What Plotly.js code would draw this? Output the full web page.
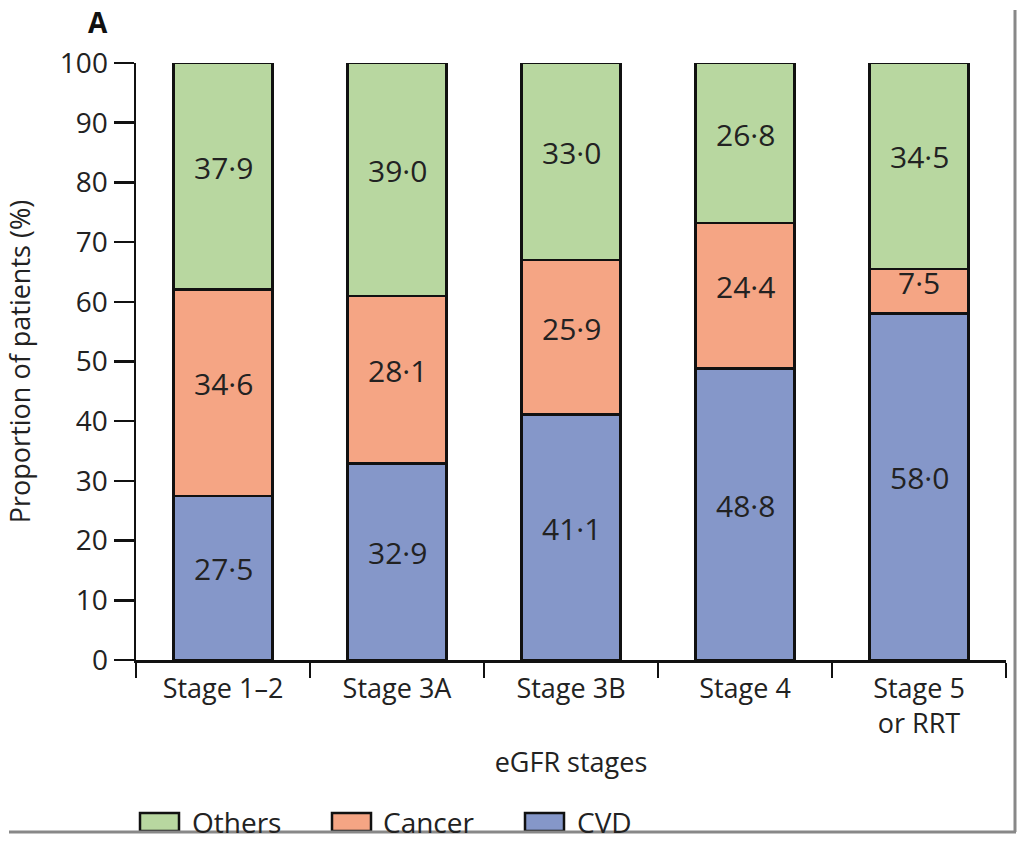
<!DOCTYPE html>
<html>
<head>
<meta charset="utf-8">
<script src="https://cdn.plot.ly/plotly-3.0.1.min.js"></script>
<style>html,body{margin:0;padding:0;background:#fff;}</style>
</head>
<body>
<div id="chart" style="width:1024px;height:843px;"></div>
<script>
const categories = ["Stage 1–2", "Stage 3A", "Stage 3B", "Stage 4", "Stage 5<br>or RRT"];
const cvd = [27.5, 32.9, 41.1, 48.8, 58.0];
const cancer = [34.6, 28.1, 25.9, 24.4, 7.5];
const others = [37.9, 39.0, 33.0, 26.8, 34.5];
const yTicks = [0, 10, 20, 30, 40, 50, 60, 70, 80, 90, 100];
const legendNames = ["Others", "Cancer", "CVD"];
const legendColors = ["#b8d7a0", "#f5a584", "#8597c9"];

const fmt = v => v.toFixed(1).replace(".", "·");
const FONT = "Open Sans, Noto Sans, sans-serif";
const TXT = "#222";

function mk(name, vals, color) {
  return {
    type: "bar", name: name, x: categories, y: vals,
    marker: {color: color, line: {color: "#111", width: 2.5}},
    width: 0.57, hoverinfo: "skip", showlegend: false
  };
}
const series = [cvd, cancer, others];
const data = [
  mk("CVD", cvd, legendColors[2]),
  mk("Cancer", cancer, legendColors[1]),
  mk("Others", others, legendColors[0])
];

// plot area: x 136..1006 (870 px), y 63..660 (597 px)
const px = x => (x - 136) / 870;
const py = y => (660 - y) / 597;

const shapes = [
  {type: "line", xref: "paper", yref: "paper", x0: px(1015), x1: px(1015), y0: py(10), y1: py(832),
   line: {color: "#888", width: 3}},
  {type: "line", xref: "paper", yref: "paper", x0: px(9), x1: px(1016), y0: py(832), y1: py(832),
   line: {color: "#888", width: 3}}
];
const annotations = [
  {xref: "paper", yref: "paper", x: px(86), y: py(22), xanchor: "left", yanchor: "middle",
   showarrow: false, text: "<b>A</b>", font: {family: FONT, size: 28, color: "#111"}}
];

// value labels inside the stacked segments (data coordinates)
categories.forEach((c, i) => {
  let base = 0;
  series.forEach(s => {
    annotations.push({x: c, y: base + s[i] / 2, xref: "x", yref: "y", showarrow: false,
      text: fmt(s[i]), yshift: 9, font: {family: FONT, size: 30, color: TXT}});
    base += s[i];
  });
});

const legBoxX = [140, 332, 525];
const legTextX = [190, 381, 575];
legendNames.forEach((n, i) => {
  shapes.push({type: "rect", xref: "paper", yref: "paper",
    x0: px(legBoxX[i]), x1: px(legBoxX[i] + 39), y0: py(813), y1: py(831),
    fillcolor: legendColors[i], line: {color: "#111", width: 2.5}, layer: "below"});
  annotations.push({xref: "paper", yref: "paper", x: px(legTextX[i]), y: py(822),
    xanchor: "left", yanchor: "middle", showarrow: false, text: n,
    font: {family: FONT, size: 28, color: TXT}});
});

const layout = {
  width: 1024, height: 843,
  margin: {l: 136, r: 18, t: 63, b: 183},
  barmode: "stack",
  paper_bgcolor: "#fff", plot_bgcolor: "#fff",
  font: {family: FONT, size: 27, color: TXT},
  showlegend: false,
  xaxis: {
    type: "category", showgrid: false, zeroline: false,
    showline: true, linecolor: "#111", linewidth: 2.5,
    ticks: "outside", tickson: "boundaries", ticklen: 15, tickwidth: 2.5, tickcolor: "#111",
    ticklabelstandoff: 3,
    tickfont: {family: FONT, size: 27, color: TXT},
    title: {text: "eGFR stages", standoff: 13, font: {family: FONT, size: 27, color: TXT}},
    automargin: false
  },
  yaxis: {
    range: [0, 100], tickvals: yTicks, showgrid: false, zeroline: false,
    showline: true, linecolor: "#111", linewidth: 2.5,
    ticks: "outside", ticklen: 20, tickwidth: 2.5, tickcolor: "#111",
    tickfont: {family: FONT, size: 28, color: TXT},
    title: {text: "Proportion of patients (%)", standoff: 22, font: {family: FONT, size: 27, color: TXT}},
    automargin: false
  },
  shapes: shapes,
  annotations: annotations
};
Plotly.newPlot("chart", data, layout, {displayModeBar: false, staticPlot: true});
</script>
</body>
</html>
